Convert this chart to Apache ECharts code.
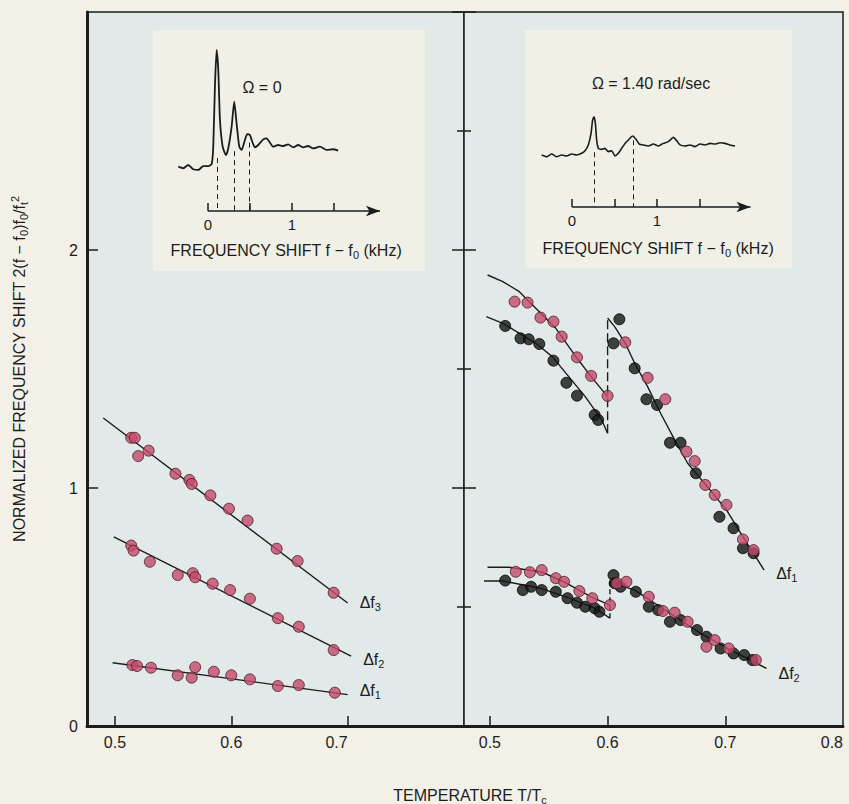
<!DOCTYPE html>
<html>
<head>
<meta charset="utf-8">
<script src="https://cdn.jsdelivr.net/npm/echarts@6/dist/echarts.min.js"></script>
<style>
  html, body { margin: 0; padding: 0; background: #f3f1e7; }
  #chart { width: 849px; height: 804px; }
</style>
</head>
<body>
<div id="chart"></div>
<script>
// left panel: normalized shift vs T/Tc, Omega = 0
const leftDf3Points = [[0.514, 1.211], [0.517, 1.211], [0.520, 1.134], [0.529, 1.157], [0.552, 1.060], [0.564, 1.034], [0.566, 1.017], [0.582, 0.969], [0.598, 0.913], [0.614, 0.863], [0.639, 0.745], [0.657, 0.693], [0.688, 0.560]]
const leftDf2Points = [[0.514, 0.758], [0.516, 0.737], [0.530, 0.690], [0.554, 0.634], [0.567, 0.642], [0.569, 0.625], [0.584, 0.598], [0.599, 0.571], [0.616, 0.535], [0.640, 0.453], [0.658, 0.417], [0.688, 0.319]]
const leftDf1Points = [[0.515, 0.256], [0.519, 0.252], [0.531, 0.245], [0.554, 0.213], [0.566, 0.203], [0.569, 0.247], [0.585, 0.228], [0.600, 0.213], [0.616, 0.196], [0.640, 0.168], [0.658, 0.172], [0.689, 0.140]]
const leftDf3Fit = [[0.490, 1.294], [0.700, 0.517]]
const leftDf2Fit = [[0.499, 0.795], [0.703, 0.294]]
const leftDf1Fit = [[0.498, 0.266], [0.700, 0.132]]

// right panel: Omega = 1.40 rad/sec
const rightDf1Pink = [[0.521, 1.783], [0.532, 1.779], [0.543, 1.716], [0.554, 1.699], [0.561, 1.636], [0.574, 1.549], [0.586, 1.471], [0.600, 1.387], [0.615, 1.612], [0.634, 1.463], [0.649, 1.373], [0.667, 1.153], [0.674, 1.113], [0.683, 1.013], [0.691, 0.971], [0.701, 0.929], [0.715, 0.784], [0.724, 0.739]]
const rightDf1Black = [[0.513, 1.681], [0.526, 1.629], [0.533, 1.625], [0.542, 1.605], [0.554, 1.535], [0.565, 1.442], [0.574, 1.388], [0.589, 1.307], [0.592, 1.286], [0.605, 1.608], [0.610, 1.709], [0.623, 1.503], [0.633, 1.373], [0.642, 1.349], [0.653, 1.190], [0.662, 1.190], [0.675, 1.062], [0.695, 0.879], [0.707, 0.831], [0.715, 0.747], [0.724, 0.726]]
const rightDf1UpperFit = [[0.498, 1.895], [0.511, 1.867], [0.525, 1.825], [0.539, 1.755], [0.556, 1.671], [0.572, 1.559], [0.586, 1.468], [0.600, 1.384]]
const rightDf1LowerFit = [[0.497, 1.720], [0.511, 1.692], [0.525, 1.650], [0.539, 1.608], [0.553, 1.552], [0.567, 1.468], [0.581, 1.384], [0.595, 1.286], [0.600, 1.230]]
const rightDf1Jump = [[0.600, 1.230], [0.600, 1.714]]
const rightDf1Fit = [[0.600, 1.714], [0.606, 1.678], [0.615, 1.608], [0.623, 1.524], [0.634, 1.426], [0.645, 1.314], [0.657, 1.202], [0.668, 1.104], [0.687, 0.992], [0.701, 0.908], [0.715, 0.795], [0.733, 0.655]]

const rightDf2Pink = [[0.522, 0.648], [0.534, 0.646], [0.544, 0.655], [0.556, 0.621], [0.563, 0.606], [0.576, 0.567], [0.587, 0.537], [0.602, 0.508], [0.608, 0.600], [0.616, 0.606], [0.635, 0.543], [0.647, 0.483], [0.657, 0.476], [0.668, 0.438], [0.684, 0.333], [0.691, 0.361], [0.703, 0.326], [0.726, 0.277]]
const rightDf2Black = [[0.513, 0.611], [0.528, 0.571], [0.535, 0.585], [0.544, 0.571], [0.556, 0.564], [0.566, 0.537], [0.574, 0.518], [0.581, 0.501], [0.589, 0.495], [0.593, 0.480], [0.605, 0.634], [0.606, 0.600], [0.611, 0.585], [0.624, 0.564], [0.635, 0.501], [0.643, 0.487], [0.653, 0.438], [0.662, 0.445], [0.676, 0.403], [0.684, 0.375], [0.696, 0.326], [0.707, 0.305], [0.716, 0.298], [0.723, 0.277]]
const rightDf2UpperFit = [[0.498, 0.667], [0.516, 0.667], [0.544, 0.647], [0.563, 0.606], [0.586, 0.543], [0.602, 0.508]]
const rightDf2LowerFit = [[0.495, 0.609], [0.511, 0.609], [0.542, 0.580], [0.567, 0.538], [0.589, 0.495], [0.602, 0.453]]
const rightDf2Jump = [[0.602, 0.453], [0.602, 0.606]]
const rightDf2Fit = [[0.602, 0.606], [0.623, 0.571], [0.651, 0.480], [0.679, 0.389], [0.707, 0.312], [0.735, 0.242]]

// inset spectra (frequency shift in kHz, relative amplitude)
const leftSpecFreq = [-0.353, -0.294, -0.234, -0.175, -0.115, -0.056, 0.004, 0.044, 0.063, 0.083, 0.103, 0.123, 0.143, 0.175, 0.214, 0.242, 0.282, 0.313, 0.341, 0.373, 0.401, 0.440, 0.468, 0.5, 0.528, 0.560, 0.599, 0.659, 0.698, 0.738, 0.778, 0.837, 0.897, 0.956, 1.016, 1.075, 1.135, 1.194, 1.254, 1.333, 1.413, 1.492, 1.552]
const leftSpecAmp = [0.259, 0.250, 0.269, 0.244, 0.240, 0.263, 0.263, 0.275, 0.376, 0.727, 0.942, 0.825, 0.532, 0.376, 0.327, 0.366, 0.493, 0.639, 0.513, 0.376, 0.357, 0.415, 0.450, 0.444, 0.405, 0.372, 0.386, 0.419, 0.425, 0.400, 0.376, 0.386, 0.380, 0.390, 0.372, 0.386, 0.372, 0.380, 0.366, 0.376, 0.357, 0.361, 0.353]
const leftPeakFreq = [0.11, 0.31, 0.49]
const leftPeakFoot = [0.31, 0.35, 0.40]

const rightSpecFreq = [-0.357, -0.298, -0.239, -0.180, -0.122, -0.063, -0.004, 0.055, 0.114, 0.153, 0.192, 0.224, 0.243, 0.259, 0.275, 0.290, 0.310, 0.349, 0.388, 0.427, 0.467, 0.506, 0.545, 0.584, 0.624, 0.663, 0.714, 0.753, 0.792, 0.839, 0.898, 0.957, 1.016, 1.075, 1.133, 1.192, 1.231, 1.271, 1.329, 1.388, 1.447, 1.506, 1.565, 1.624, 1.682, 1.741, 1.800, 1.859, 1.918]
const rightSpecAmp = [0.304, 0.294, 0.310, 0.294, 0.304, 0.298, 0.310, 0.304, 0.314, 0.329, 0.363, 0.431, 0.509, 0.528, 0.489, 0.392, 0.343, 0.337, 0.343, 0.324, 0.329, 0.298, 0.314, 0.343, 0.372, 0.392, 0.415, 0.396, 0.368, 0.363, 0.357, 0.368, 0.357, 0.372, 0.382, 0.407, 0.388, 0.363, 0.357, 0.363, 0.353, 0.368, 0.363, 0.372, 0.368, 0.376, 0.372, 0.363, 0.357]
const rightPeakFreq = [0.26, 0.72]
const rightPeakFoot = [0.32, 0.39]

const leftArrowSpan = [0, 2.05]
const rightArrowSpan = [0, 2.1]

const mainTempTicks = [0.5, 0.6, 0.7]
const rightTempLabels = [0.5, 0.6, 0.7, 0.8]
const shiftLabels = [0, 1, 2]
const shiftTicks = [1, 2]
const insetTicks = [0, 0.5, 1, 1.5]
const insetLabels = [0, 1]

const FONT = 'Liberation Sans, Arial, sans-serif'
const INK = '#1c1c1c'
const PINK = '#c44b6c'

const subRich = {
  b: { fontSize: 16, fontFamily: FONT, color: INK, lineHeight: 20 },
  s: { fontSize: 11, fontFamily: FONT, color: INK, lineHeight: 9, verticalAlign: 'bottom' },
  p: { fontSize: 11, fontFamily: FONT, color: INK, lineHeight: 9, verticalAlign: 'top' }
}

const chart = echarts.init(document.getElementById('chart'), null, { renderer: 'svg' })

const fitLine = (data, xi, yi, extra) => Object.assign({
  type: 'line',
  data,
  xAxisIndex: xi,
  yAxisIndex: yi,
  showSymbol: false,
  silent: true,
  lineStyle: { color: INK, width: 1.4 },
  z: 3
}, extra || {})

const dots = (data, xi, yi, color, border) => ({
  type: 'scatter',
  data,
  xAxisIndex: xi,
  yAxisIndex: yi,
  symbolSize: 11,
  itemStyle: { color, borderColor: border, borderWidth: 1 },
  z: 4
})

const endTag = (n, offset) => ({
  show: true,
  formatter: '{b|Δf}{s|' + n + '}',
  distance: 12,
  offset: offset || [0, 0],
  rich: subRich
})

const peakLines = (freqs, feet) => ({
  silent: true,
  symbol: 'none',
  label: { show: false },
  lineStyle: { color: INK, type: [5, 4], width: 1 },
  data: freqs.map((f, i) => [{ coord: [f, feet[i]] }, { coord: [f, 0] }])
})

const arrowLine = (span) => ({
  silent: true,
  symbol: ['none', 'arrow'],
  symbolSize: [8, 14],
  label: { show: false },
  lineStyle: { color: INK, type: 'solid', width: 1.6 },
  data: [[{ coord: [span[0], 0] }, { coord: [span[1], 0] }]]
})

const mainX = (min, labels) => ({
  type: 'value',
  min,
  max: 0.8,
  axisLine: { show: true, onZero: false, lineStyle: { color: INK, width: 3 } },
  axisTick: { show: true, inside: true, length: 10, customValues: mainTempTicks, lineStyle: { color: INK, width: 1.5 } },
  axisLabel: { customValues: labels, formatter: v => v.toFixed(1), color: INK, fontSize: 16, fontFamily: FONT, margin: 8, alignMaxLabel: 'right' },
  splitLine: { show: false }
})

const dividerY = (gridIndex, position) => ({
  type: 'value',
  gridIndex,
  position,
  min: 0,
  max: 3,
  interval: 1,
  axisLine: { show: false },
  axisTick: { show: true, inside: true, length: 12, lineStyle: { color: INK, width: 1.5 } },
  minorTick: { show: true, splitNumber: 2, length: 7, lineStyle: { color: INK, width: 1.5 } },
  axisLabel: { show: false },
  splitLine: { show: false }
})

const insetX = (gridIndex, max) => ({
  type: 'value',
  gridIndex,
  min: -0.5,
  max,
  z: 5,
  axisLine: { show: false },
  axisTick: { show: true, inside: true, length: 8, customValues: insetTicks, lineStyle: { color: INK, width: 1.5 } },
  axisLabel: { customValues: insetLabels, color: INK, fontSize: 15, fontFamily: FONT, margin: 6 },
  splitLine: { show: false }
})

const insetY = (gridIndex) => ({
  type: 'value', gridIndex, min: 0, max: 1, show: false
})

const textEl = (x, y, text, size) => ({
  type: 'text',
  x, y,
  z: 6,
  style: {
    text,
    rich: subRich,
    font: size + 'px ' + FONT,
    fill: INK,
    align: 'center',
    verticalAlign: 'middle',
    textAlign: 'center',
    textVerticalAlign: 'middle'
  }
})

chart.setOption({
  animation: false,
  backgroundColor: '#f3f1e7',
  textStyle: { fontFamily: FONT },
  grid: [
    { left: 87, top: 12, width: 377, height: 714, show: true, backgroundColor: '#e2eae9', borderColor: INK, borderWidth: 1.5, outerBoundsMode: 'none' },
    { left: 464, top: 12, width: 379, height: 714, show: true, backgroundColor: '#e2eae9', borderColor: INK, borderWidth: 1.5, outerBoundsMode: 'none' },
    { left: 166, top: 40, width: 214, height: 171, outerBoundsMode: 'none' },
    { left: 529.5, top: 36, width: 221, height: 171, outerBoundsMode: 'none' }
  ],
  xAxis: [
    Object.assign(mainX(0.476, mainTempTicks), { gridIndex: 0 }),
    Object.assign(mainX(0.478, rightTempLabels), { gridIndex: 1 }),
    insetX(2, leftArrowSpan[1]),
    insetX(3, rightArrowSpan[1])
  ],
  yAxis: [
    {
      type: 'value',
      gridIndex: 0,
      min: 0,
      max: 3,
      axisLine: { show: true, lineStyle: { color: INK, width: 3 } },
      axisTick: { show: true, inside: true, length: 11, customValues: shiftTicks, lineStyle: { color: INK, width: 1.5 } },
      axisLabel: { customValues: shiftLabels, color: INK, fontSize: 16, fontFamily: FONT, margin: 9 },
      splitLine: { show: false },
      name: '{b|NORMALIZED FREQUENCY SHIFT 2(f − f}{s|0}{b|)f}{s|0}{b|/f}{s|t}{p|2}',
      nameLocation: 'middle',
      nameRotate: 90,
      nameGap: 58,
      nameTextStyle: { rich: subRich }
    },
    dividerY(0, 'right'),
    dividerY(1, 'left'),
    insetY(2),
    insetY(3)
  ],
  graphic: [
    { type: 'rect', z: 1, shape: { x: 153, y: 30, width: 272, height: 241 }, style: { fill: '#f0f0e7' } },
    { type: 'rect', z: 1, shape: { x: 525, y: 30, width: 267, height: 238 }, style: { fill: '#f0f0e7' } },
    textEl(262, 87, '{b|Ω = 0}', 16),
    textEl(651, 83, '{b|Ω = 1.40 rad/sec}', 16),
    textEl(286, 250, '{b|FREQUENCY SHIFT f − f}{s|0}{b| (kHz)}', 16),
    textEl(658, 248, '{b|FREQUENCY SHIFT f − f}{s|0}{b| (kHz)}', 16),
    textEl(470, 795, '{b|TEMPERATURE T/T}{s|c}', 16)
  ],
  series: [
    // left panel
    fitLine(leftDf3Fit, 0, 0, { endLabel: endTag(3) }),
    fitLine(leftDf2Fit, 0, 0, { endLabel: endTag(2, [0, 3]) }),
    fitLine(leftDf1Fit, 0, 0, { endLabel: endTag(1, [0, -4]) }),
    dots(leftDf3Points, 0, 0, PINK, '#4a1a28'),
    dots(leftDf2Points, 0, 0, PINK, '#4a1a28'),
    dots(leftDf1Points, 0, 0, PINK, '#4a1a28'),
    // right panel
    fitLine(rightDf1UpperFit, 1, 2),
    fitLine(rightDf1LowerFit, 1, 2),
    fitLine(rightDf1Jump, 1, 2, { lineStyle: { color: INK, width: 1.4, type: [9, 4] } }),
    fitLine(rightDf1Fit, 1, 2, { endLabel: endTag(1, [0, 3]) }),
    fitLine(rightDf2UpperFit, 1, 2),
    fitLine(rightDf2LowerFit, 1, 2),
    fitLine(rightDf2Jump, 1, 2, { lineStyle: { color: INK, width: 1.4, type: [5, 3] } }),
    fitLine(rightDf2Fit, 1, 2, { endLabel: endTag(2, [0, 5]) }),
    dots(rightDf1Black, 1, 2, '#151515', '#000'),
    dots(rightDf2Black, 1, 2, '#151515', '#000'),
    dots(rightDf1Pink, 1, 2, PINK, '#4a1a28'),
    dots(rightDf2Pink, 1, 2, PINK, '#4a1a28'),
    // insets
    {
      type: 'line',
      xAxisIndex: 2,
      yAxisIndex: 3,
      data: leftSpecFreq.map((f, i) => [f, leftSpecAmp[i]]),
      showSymbol: false,
      silent: true,
      smooth: 0.2,
      lineStyle: { color: INK, width: 1.8 },
      z: 6,
      markLine: peakLines(leftPeakFreq, leftPeakFoot)
    },
    {
      type: 'line',
      xAxisIndex: 2,
      yAxisIndex: 3,
      data: [],
      z: 6,
      markLine: arrowLine(leftArrowSpan)
    },
    {
      type: 'line',
      xAxisIndex: 3,
      yAxisIndex: 4,
      data: rightSpecFreq.map((f, i) => [f, rightSpecAmp[i]]),
      showSymbol: false,
      silent: true,
      smooth: 0.2,
      lineStyle: { color: INK, width: 1.6 },
      z: 6,
      markLine: peakLines(rightPeakFreq, rightPeakFoot)
    },
    {
      type: 'line',
      xAxisIndex: 3,
      yAxisIndex: 4,
      data: [],
      z: 6,
      markLine: arrowLine(rightArrowSpan)
    }
  ]
})
</script>
</body>
</html>
